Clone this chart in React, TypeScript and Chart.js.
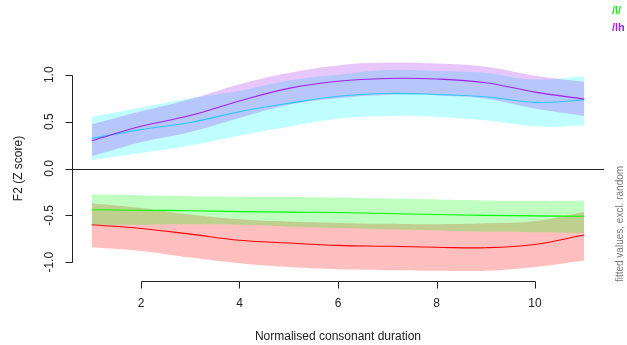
import { useEffect, useRef } from "react";
import { Chart, registerables } from "chart.js";

Chart.register(...registerables);

// Normalised consonant duration (x positions of the fitted curves)
const durations = [1, 2, 3, 4, 5, 6, 7, 8, 9, 10, 11];

// /lh (purple) fitted F2 with confidence band
const purpleFit = [0.295, 0.45, 0.565, 0.72, 0.855, 0.93, 0.96, 0.955, 0.915, 0.815, 0.74];
const purpleUpper = [0.47, 0.61, 0.74, 0.9, 1.02, 1.1, 1.13, 1.12, 1.085, 0.99, 0.925];
const purpleLower = [0.13, 0.28, 0.39, 0.54, 0.68, 0.75, 0.785, 0.78, 0.745, 0.64, 0.56];

// cyan fitted F2 with confidence band
const cyanFit = [0.32, 0.415, 0.49, 0.605, 0.695, 0.77, 0.8, 0.79, 0.765, 0.705, 0.73];
const cyanUpper = [0.55, 0.65, 0.75, 0.83, 0.94, 1.0, 1.05, 1.04, 1.02, 0.95, 0.985];
const cyanLower = [0.09, 0.165, 0.245, 0.35, 0.445, 0.53, 0.56, 0.55, 0.515, 0.45, 0.46];

// /l/ (green) fitted F2 with confidence band
const greenFit = [-0.44, -0.445, -0.45, -0.46, -0.465, -0.47, -0.48, -0.49, -0.5, -0.505, -0.51];
const greenUpper = [-0.275, -0.285, -0.295, -0.3, -0.305, -0.31, -0.32, -0.33, -0.34, -0.345, -0.345];
const greenLower = [-0.6, -0.6, -0.595, -0.6, -0.62, -0.635, -0.65, -0.66, -0.675, -0.68, -0.69];

// red fitted F2 with confidence band
const redFit = [-0.6, -0.64, -0.7, -0.765, -0.795, -0.82, -0.83, -0.84, -0.845, -0.81, -0.71];
const redUpper = [-0.37, -0.42, -0.49, -0.54, -0.565, -0.58, -0.59, -0.595, -0.585, -0.56, -0.46];
const redLower = [-0.84, -0.88, -0.95, -1.01, -1.05, -1.075, -1.085, -1.09, -1.09, -1.05, -0.98];

const xTicks = [2, 4, 6, 8, 10];
const yTicks = [-1.0, -0.5, 0.0, 0.5, 1.0];
const yTickLabels = ["-1.0", "-0.5", "0.0", "0.5", "1.0"];

const legendItems = [
  { label: "/l/", color: "#22ee22" },
  { label: "/lh", color: "#a020f0" },
];

const xTitle = "Normalised consonant duration";
const yTitle = "F2 (Z score)";
const sideNote = "fitted values, excl. random";

const FONT = '"Liberation Sans", Arial, Helvetica, sans-serif';

const pts = (vals: number[]) => vals.map((v, i) => ({ x: durations[i], y: v }));

type Group = {
  fit: number[];
  upper: number[];
  lower: number[];
  line: string;
  band: string;
  order: number;
};

const groups: Group[] = [
  { fit: redFit, upper: redUpper, lower: redLower, line: "#ff0000", band: "rgba(255,0,0,0.25)", order: 40 },
  { fit: cyanFit, upper: cyanUpper, lower: cyanLower, line: "#00ffff", band: "rgba(0,255,255,0.25)", order: 30 },
  { fit: greenFit, upper: greenUpper, lower: greenLower, line: "#00ff00", band: "rgba(0,255,0,0.25)", order: 20 },
  { fit: purpleFit, upper: purpleUpper, lower: purpleLower, line: "#a020f0", band: "rgba(160,32,240,0.25)", order: 10 },
];

function buildDatasets() {
  const ds: any[] = [];
  groups.forEach((g) => {
    const lowerIndex = ds.length;
    ds.push({
      data: pts(g.lower),
      borderColor: "rgba(0,0,0,0)",
      borderWidth: 1,
      pointRadius: 0,
      fill: false,
      order: g.order + 3,
    });
    ds.push({
      data: pts(g.upper),
      borderColor: "rgba(0,0,0,0)",
      borderWidth: 1,
      pointRadius: 0,
      backgroundColor: g.band,
      fill: lowerIndex,
      order: g.order + 2,
    });
    ds.push({
      data: pts(g.fit),
      borderColor: g.line,
      borderWidth: 1.1,
      pointRadius: 0,
      fill: false,
      order: g.order + 1,
    });
  });
  return ds;
}

// Base-graphics style axes, zero line and annotations
const baseAxes = {
  id: "baseAxes",
  afterDraw(chart: any) {
    const { ctx, chartArea, scales } = chart;
    const xs = scales.x;
    const ys = scales.y;
    ctx.save();
    ctx.strokeStyle = "#222";
    ctx.fillStyle = "#222";
    ctx.lineWidth = 1;

    // horizontal zero reference line
    const yZero = Math.round(ys.getPixelForValue(0)) + 0.5;
    ctx.beginPath();
    ctx.moveTo(chartArea.left, yZero);
    ctx.lineTo(chartArea.right, yZero);
    ctx.stroke();

    // x axis
    const xb = Math.round(chartArea.bottom) + 0.5;
    const x1 = xs.getPixelForValue(xTicks[0]);
    const x2 = xs.getPixelForValue(xTicks[xTicks.length - 1]);
    ctx.beginPath();
    ctx.moveTo(Math.round(x1) + 0.5, xb);
    ctx.lineTo(Math.round(x2) + 0.5, xb);
    xTicks.forEach((t) => {
      const px = Math.round(xs.getPixelForValue(t)) + 0.5;
      ctx.moveTo(px, xb);
      ctx.lineTo(px, xb + 7);
    });
    ctx.stroke();
    ctx.font = `12px ${FONT}`;
    ctx.textAlign = "center";
    ctx.textBaseline = "middle";
    xTicks.forEach((t) => {
      ctx.fillText(String(t), xs.getPixelForValue(t), xb + 22.5);
    });
    ctx.fillText(xTitle, (chartArea.left + chartArea.right) / 2, xb + 55);

    // y axis
    const yl = Math.round(chartArea.left) + 0.5;
    const y1 = ys.getPixelForValue(yTicks[0]);
    const y2 = ys.getPixelForValue(yTicks[yTicks.length - 1]);
    ctx.beginPath();
    ctx.moveTo(yl, Math.round(y1) + 0.5);
    ctx.lineTo(yl, Math.round(y2) + 0.5);
    yTicks.forEach((t) => {
      const py = Math.round(ys.getPixelForValue(t)) + 0.5;
      ctx.moveTo(yl, py);
      ctx.lineTo(yl - 7, py);
    });
    ctx.stroke();
    yTicks.forEach((t, i) => {
      ctx.save();
      ctx.translate(yl - 22.5, ys.getPixelForValue(t));
      ctx.rotate(-Math.PI / 2);
      ctx.fillText(yTickLabels[i], 0, 0);
      ctx.restore();
    });
    ctx.save();
    ctx.translate(19, (chartArea.top + chartArea.bottom) / 2);
    ctx.rotate(-Math.PI / 2);
    ctx.fillText(yTitle, 0, 0);
    ctx.restore();

    // side note on the right margin
    ctx.save();
    ctx.fillStyle = "#777";
    ctx.font = `10px ${FONT}`;
    ctx.translate(620, 224);
    ctx.rotate(-Math.PI / 2);
    ctx.fillText(sideNote, 0, 0);
    ctx.restore();

    // legend in the top-right corner
    ctx.font = `bold 11px ${FONT}`;
    ctx.textAlign = "left";
    legendItems.forEach((item, i) => {
      ctx.fillStyle = item.color;
      ctx.fillText(item.label, 612, 11 + i * 17);
    });

    ctx.restore();
  },
};

export default function App() {
  const canvasRef = useRef<HTMLCanvasElement | null>(null);

  useEffect(() => {
    if (!canvasRef.current) return;
    const chart = new Chart(canvasRef.current, {
      type: "line",
      data: { datasets: buildDatasets() },
      options: {
        animation: false,
        responsive: true,
        maintainAspectRatio: false,
        events: [],
        layout: { padding: { left: 72, right: 23, top: 56, bottom: 64 } },
        elements: { line: { tension: 0.4 } },
        plugins: {
          legend: { display: false },
          tooltip: { enabled: false },
        },
        scales: {
          x: { type: "linear", min: 0.6, max: 11.4, display: false },
          y: { type: "linear", min: -1.2, max: 1.2, display: false },
        },
      },
      plugins: [baseAxes],
    });
    return () => chart.destroy();
  }, []);

  return (
    <div style={{ position: "absolute", left: 0, top: 0, width: 627, height: 345, background: "#fff" }}>
      <canvas ref={canvasRef} />
    </div>
  );
}
